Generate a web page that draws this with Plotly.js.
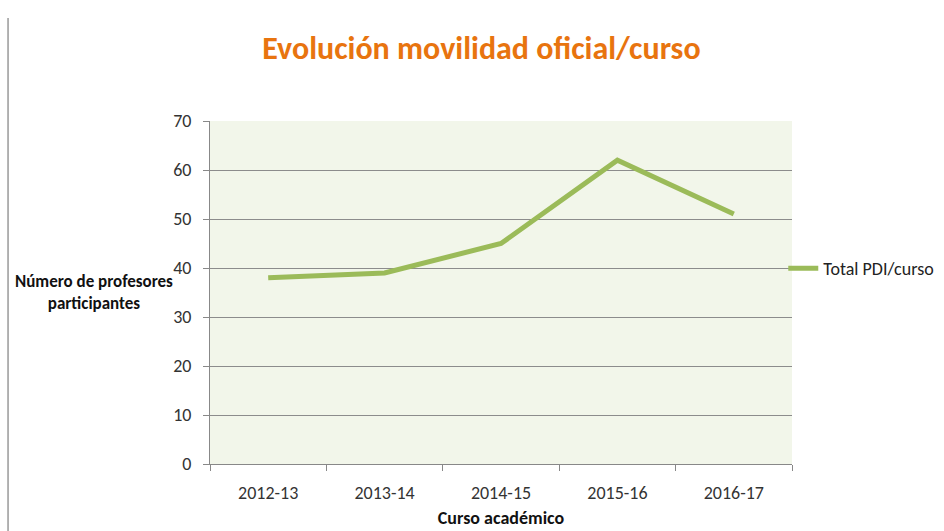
<!DOCTYPE html>
<html>
<head>
<meta charset="utf-8">
<script src="https://cdn.plot.ly/plotly-3.0.1.min.js"></script>
<style>
html,body{margin:0;padding:0;background:#fff;}
#chart{width:944px;height:531px;}
</style>
</head>
<body>
<div id="chart"></div>
<script>
const categories = ["2012-13", "2013-14", "2014-15", "2015-16", "2016-17"];
const totalPDI = [38, 39, 45, 62, 51];
const yTicks = [0, 10, 20, 30, 40, 50, 60, 70];
const seriesName = "Total PDI/curso";

const FONT = "Carlito, 'Liberation Sans Narrow', Lato, 'Liberation Sans', Arial, sans-serif";

const trace = {
  x: categories,
  y: totalPDI,
  type: "scatter",
  mode: "lines",
  name: seriesName,
  line: {color: "#9BBB59", width: 5},
  showlegend: true
};

const layout = {
  width: 944,
  height: 531,
  margin: {l: 210, r: 152, t: 121, b: 67, autoexpand: false},
  paper_bgcolor: "#ffffff",
  plot_bgcolor: "#f2f6ea",
  font: {family: FONT, size: 15, color: "#333333"},
  title: {
    text: "<b>Evolución movilidad oficial/curso</b>",
    font: {family: FONT, size: 32, color: "#E8740F"},
    x: 0.51, xanchor: "center",
    y: 0.91, yanchor: "middle"
  },
  xaxis: {
    type: "category",
    range: [-0.5, 4.5],
    tickson: "boundaries",
    ticks: "outside",
    ticklen: 6,
    tickcolor: "#888888",
    showline: true,
    linecolor: "#888888",
    linewidth: 1,
    showgrid: false,
    ticklabelstandoff: 12,
    tickfont: {family: FONT, size: 18, color: "#333333"},
    title: {text: "<b>Curso académico</b>", font: {family: FONT, size: 18, color: "#111111"}, standoff: 8}
  },
  yaxis: {
    range: [0, 70],
    tickvals: yTicks,
    ticks: "outside",
    ticklen: 6,
    tickcolor: "#888888",
    showline: true,
    linecolor: "#888888",
    showgrid: true,
    gridcolor: "#8c8c8c",
    gridwidth: 1,
    zeroline: false,
    ticklabelstandoff: 8,
    tickfont: {family: FONT, size: 18, color: "#333333"}
  },
  legend: {
    x: 0.985, xanchor: "left",
    y: 0.57, yanchor: "middle",
    bgcolor: "rgba(0,0,0,0)",
    font: {family: FONT, size: 18, color: "#222222"},
    itemwidth: 30
  },
  annotations: [{
    text: "<b>Número de profesores<br>participantes</b>",
    xref: "paper", yref: "paper",
    x: -0.2, y: 0.5,
    xanchor: "center", yanchor: "middle",
    showarrow: false,
    align: "center",
    font: {family: FONT, size: 17, color: "#111111"}
  }],
  shapes: [{
    type: "line", xref: "paper", yref: "paper",
    x0: -0.347, x1: -0.347, y0: -0.2, y1: 1.3,
    line: {color: "#999999", width: 1.5}
  }]
};

Plotly.newPlot("chart", [trace], layout, {displayModeBar: false, staticPlot: true});
</script>
</body>
</html>
